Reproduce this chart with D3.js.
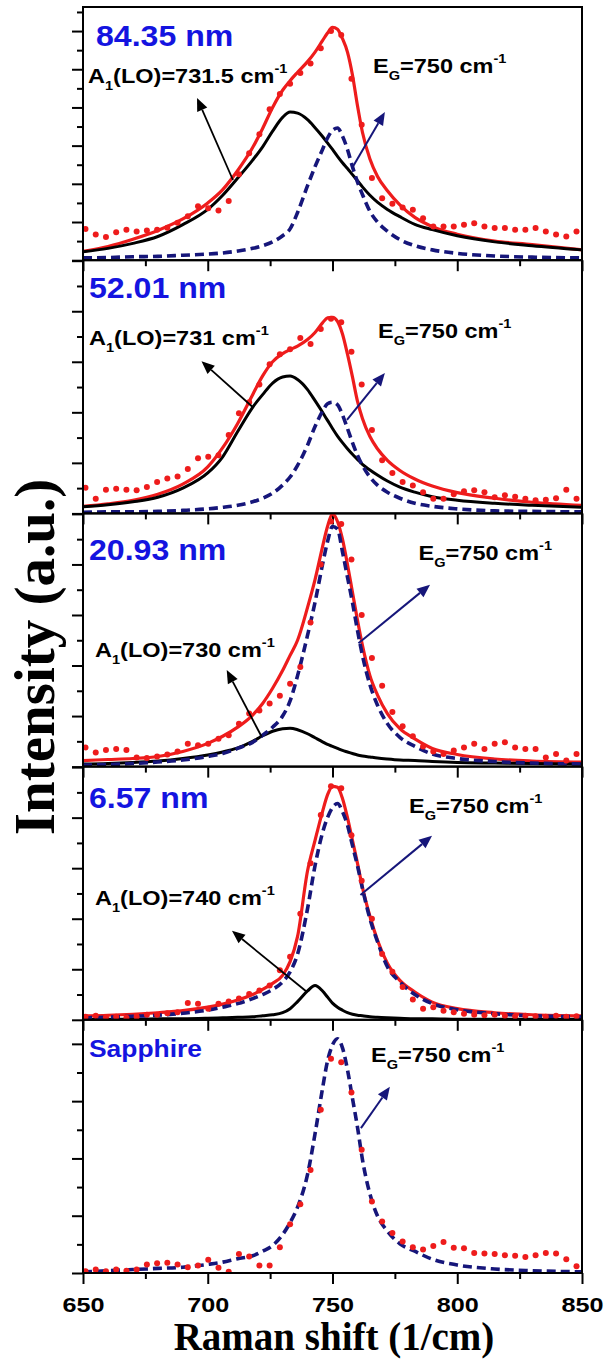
<!DOCTYPE html>
<html>
<head>
<meta charset="utf-8">
<script src="https://cdn.jsdelivr.net/npm/d3@7"></script>
<style>
  body { margin: 0; background: #fff; }
  svg { display: block; }
</style>
</head>
<body>
<svg id="chart" width="606" height="1360"></svg>
<script>
// ---------- data ----------
// Raman shift of the measured points (cm^-1)
const dataShift = [651.0, 655.1, 659.2, 663.3, 667.4, 671.5, 675.6, 679.7, 683.8, 687.9,
  692.0, 696.1, 700.2, 704.3, 708.4, 712.5, 716.6, 720.7, 724.8, 728.9,
  733.0, 737.1, 741.2, 745.3, 749.4, 753.5, 757.6, 761.7, 765.8, 769.9,
  774.0, 778.1, 782.2, 786.3, 790.4, 794.5, 798.6, 802.7, 806.8, 810.9,
  815.0, 819.1, 823.2, 827.3, 831.4, 835.5, 839.6, 843.7, 847.8];

// Raman shift at which the fitted curves are tabulated (cm^-1)
const fitShift = [650, 660, 670, 680, 690, 700, 706, 712, 718, 722, 726, 730, 733, 736, 740,
  743, 746, 748, 750, 752, 754, 756, 758, 760, 762, 765, 768, 772, 777, 783, 790, 800, 815, 830, 850];

const xTicks = [650, 700, 750, 800, 850];
const xMinorTicks = [675, 725, 775, 825];

const sampleLabels = ["84.35 nm", "52.01 nm", "20.93 nm", "6.57 nm", "Sapphire"];
const a1Positions = ["731.5", "731", "730", "740", null];
const egPositions = ["750", "750", "750", "750", "750"];
const intensityMax = [6.63, 5.01, 5.01, 5.01, 4.42];

// 84.35 nm film
const measured84 = [0.82, 0.67, 0.61, 0.73, 0.80, 0.75, 0.78, 0.80, 0.85, 0.98, 1.15, 1.41, 1.36, 1.30, 1.55,
  2.25, 2.80, 3.30, 3.95, 4.35, 4.62, 4.90, 5.15, 5.55, 6.00, 5.90, 4.75, 3.55, 2.15, 1.62, 1.48, 1.38,
  1.32, 1.10, 0.88, 0.88, 0.88, 0.93, 0.97, 0.88, 0.84, 0.84, 0.80, 0.80, 0.84, 0.75, 0.67, 0.62, 0.75];
const total84 = [0.23, 0.36, 0.55, 0.78, 1.08, 1.50, 1.85, 2.35, 2.95, 3.45, 4.00, 4.45, 4.70, 4.92, 5.20,
  5.45, 5.75, 5.95, 6.10, 6.05, 5.80, 5.45, 4.85, 4.05, 3.35, 2.65, 2.20, 1.82, 1.45, 1.12, 0.88, 0.68, 0.50, 0.41, 0.27];
const a1Fit84 = [0.22, 0.31, 0.44, 0.62, 0.93, 1.33, 1.70, 2.15, 2.62, 2.97, 3.38, 3.74, 3.88, 3.85, 3.68,
  3.47, 3.24, 3.07, 2.90, 2.72, 2.55, 2.40, 2.24, 2.08, 1.92, 1.70, 1.52, 1.33, 1.14, 0.94, 0.80, 0.64, 0.48, 0.38, 0.27];
const egFit84 = [0.06, 0.07, 0.09, 0.10, 0.13, 0.16, 0.19, 0.24, 0.31, 0.38, 0.48, 0.64, 0.82, 1.25, 1.95,
  2.45, 2.90, 3.20, 3.40, 3.46, 3.25, 2.90, 2.45, 2.05, 1.72, 1.28, 1.00, 0.76, 0.54, 0.38, 0.27, 0.18, 0.11, 0.08, 0.06];

// 52.01 nm film
const measured52 = [0.51, 0.29, 0.47, 0.49, 0.47, 0.46, 0.52, 0.62, 0.69, 0.73, 0.88, 1.09, 1.12, 1.15, 1.55,
  1.98, 2.20, 2.55, 2.95, 3.15, 3.25, 3.47, 3.35, 3.65, 3.85, 3.78, 3.20, 2.55, 1.65, 1.05, 0.80, 0.62,
  0.55, 0.42, 0.29, 0.29, 0.38, 0.44, 0.46, 0.42, 0.32, 0.36, 0.33, 0.29, 0.26, 0.27, 0.30, 0.47, 0.29];
const total52 = [0.14, 0.19, 0.26, 0.38, 0.58, 0.92, 1.30, 1.78, 2.35, 2.72, 3.00, 3.16, 3.24, 3.31, 3.44,
  3.58, 3.77, 3.87, 3.88, 3.80, 3.55, 3.15, 2.70, 2.22, 1.88, 1.52, 1.28, 1.05, 0.85, 0.68, 0.54, 0.41, 0.30, 0.22, 0.16];
const a1Fit52 = [0.13, 0.17, 0.23, 0.32, 0.50, 0.80, 1.12, 1.62, 2.10, 2.35, 2.58, 2.70, 2.72, 2.65, 2.45,
  2.23, 2.00, 1.84, 1.68, 1.53, 1.40, 1.28, 1.17, 1.07, 0.97, 0.86, 0.76, 0.64, 0.52, 0.42, 0.33, 0.26, 0.20, 0.16, 0.12];
const egFit52 = [0.02, 0.03, 0.03, 0.04, 0.06, 0.09, 0.12, 0.16, 0.23, 0.30, 0.40, 0.56, 0.72, 0.95, 1.35,
  1.72, 2.02, 2.17, 2.20, 2.15, 1.95, 1.68, 1.40, 1.15, 0.95, 0.72, 0.56, 0.42, 0.30, 0.20, 0.14, 0.09, 0.05, 0.04, 0.03];

// 20.93 nm film
const measured20 = [0.38, 0.28, 0.33, 0.35, 0.33, 0.18, 0.17, 0.20, 0.24, 0.30, 0.45, 0.42, 0.45, 0.55, 0.62,
  0.85, 1.05, 1.11, 1.25, 1.40, 1.64, 1.97, 2.85, 4.00, 4.85, 4.80, 4.10, 3.00, 2.15, 1.60, 1.08, 0.80,
  0.60, 0.40, 0.30, 0.25, 0.32, 0.38, 0.45, 0.35, 0.45, 0.48, 0.38, 0.35, 0.35, 0.18, 0.25, 0.12, 0.25];
const total20 = [0.12, 0.14, 0.16, 0.20, 0.30, 0.46, 0.60, 0.78, 1.02, 1.25, 1.55, 1.90, 2.20, 2.50, 3.15,
  3.70, 4.35, 4.75, 5.00, 4.85, 4.50, 4.00, 3.45, 2.90, 2.40, 1.80, 1.42, 1.05, 0.75, 0.55, 0.36, 0.24, 0.15, 0.11, 0.09];
const a1Fit20 = [0.05, 0.06, 0.08, 0.11, 0.16, 0.23, 0.29, 0.37, 0.50, 0.61, 0.70, 0.75, 0.76, 0.73, 0.65,
  0.57, 0.49, 0.44, 0.40, 0.36, 0.32, 0.29, 0.26, 0.23, 0.21, 0.19, 0.17, 0.15, 0.13, 0.12, 0.10, 0.08, 0.07, 0.06, 0.05];
const egFit20 = [0.03, 0.04, 0.06, 0.09, 0.13, 0.20, 0.26, 0.36, 0.48, 0.62, 0.78, 1.00, 1.30, 1.80, 2.60,
  3.25, 4.00, 4.45, 4.75, 4.70, 4.25, 3.75, 3.25, 2.70, 2.20, 1.62, 1.22, 0.85, 0.58, 0.40, 0.25, 0.16, 0.10, 0.07, 0.05];

// 6.57 nm film
const measured6 = [0.06, 0.08, 0.05, 0.06, 0.04, 0.06, 0.10, 0.10, 0.13, 0.15, 0.33, 0.32, 0.22, 0.32, 0.36,
  0.42, 0.51, 0.58, 0.68, 0.98, 1.25, 2.10, 3.10, 4.05, 4.62, 4.58, 3.65, 2.75, 2.00, 1.30, 0.95, 0.65,
  0.40, 0.22, 0.25, 0.18, 0.15, 0.12, 0.10, 0.09, 0.10, 0.08, 0.07, 0.08, 0.07, 0.06, 0.08, 0.06, 0.07];
const total6 = [0.08, 0.09, 0.11, 0.14, 0.18, 0.25, 0.31, 0.39, 0.50, 0.60, 0.72, 0.88, 1.15, 1.65, 2.95,
  3.55, 4.12, 4.45, 4.62, 4.60, 4.38, 4.00, 3.55, 3.10, 2.62, 2.05, 1.58, 1.12, 0.78, 0.55, 0.35, 0.22, 0.14, 0.10, 0.08];
const a1Fit6 = [0.01, 0.01, 0.01, 0.02, 0.02, 0.03, 0.04, 0.05, 0.06, 0.08, 0.10, 0.14, 0.22, 0.36, 0.57,
  0.68, 0.57, 0.45, 0.33, 0.25, 0.19, 0.14, 0.11, 0.09, 0.08, 0.06, 0.05, 0.04, 0.03, 0.02, 0.02, 0.01, 0.01, 0.01, 0.01];
const egFit6 = [0.04, 0.05, 0.07, 0.09, 0.13, 0.19, 0.25, 0.32, 0.42, 0.50, 0.60, 0.75, 0.95, 1.30, 2.20,
  3.05, 3.70, 4.00, 4.20, 4.28, 4.12, 3.85, 3.45, 3.05, 2.60, 2.00, 1.55, 1.05, 0.75, 0.50, 0.32, 0.20, 0.12, 0.08, 0.06];

// bare sapphire substrate
const measuredSapphire = [0.03, 0.06, 0.03, 0.06, 0.04, 0.06, 0.15, 0.17, 0.18, 0.15, 0.10, 0.13, 0.23, 0.09, 0.02,
  0.33, 0.29, 0.13, 0.13, 0.45, 0.85, 1.20, 1.80, 2.85, 3.74, 3.68, 3.15, 2.15, 1.25, 0.90, 0.70, 0.55,
  0.45, 0.41, 0.47, 0.54, 0.44, 0.43, 0.35, 0.34, 0.33, 0.31, 0.30, 0.28, 0.31, 0.35, 0.34, 0.24, 0.12];
const egFitSapphire = [0.02, 0.04, 0.06, 0.08, 0.10, 0.15, 0.19, 0.25, 0.30, 0.38, 0.48, 0.67, 0.88, 1.15, 1.72,
  2.43, 3.22, 3.70, 3.98, 4.09, 3.93, 3.55, 3.05, 2.55, 1.98, 1.38, 1.00, 0.73, 0.51, 0.38, 0.24, 0.14, 0.07, 0.04, 0.02];

// ---------- layout ----------
const plotLeft = 83, plotRight = 582, plotTop = 7, panelH = 253.2;
const RED = "#ee1c1c", NAVY = "#16167a", LABEL_BLUE = "#1414e0";
const SANS = "'Liberation Sans', Arial, Helvetica, sans-serif";
const SERIF = "'Liberation Serif', 'Times New Roman', Times, serif";

// per-panel annotation placement (text offsets in px from the panel's top-left; arrows in data units)
const panelDecor = [
  { name: [13, 39], a1: [5, 76], eg: [290, 66],
    a1Arrow: [[710.1, 2.10], [695.7, 4.25]], egArrow: [[757.8, 2.41], [771.0, 3.88]] },
  { name: [6, 38], a1: [6, 85], eg: [295, 78],
    a1Arrow: [[718.1, 2.10], [697.5, 3.01]], egArrow: [[755.8, 1.85], [771.0, 2.78]] },
  { name: [6, 46.6], a1: [12, 143.6], eg: [335.6, 46.6],
    a1Arrow: [[721.6, 0.59], [707.6, 1.91]], egArrow: [[760.4, 2.44], [789.1, 3.60]] },
  { name: [6, 41.7], a1: [12, 138.4], eg: [326, 46.6],
    a1Arrow: [[739.8, 0.55], [709.7, 1.76]], egArrow: [[761.2, 2.47], [789.9, 3.64]] },
  { name: [6, 37], a1: null, eg: [288, 42],
    a1Arrow: null, egArrow: [[761.4, 2.53], [773.0, 3.25]] }
];

const panels = [
  { measured: measured84, total: total84, a1: a1Fit84, eg: egFit84 },
  { measured: measured52, total: total52, a1: a1Fit52, eg: egFit52 },
  { measured: measured20, total: total20, a1: a1Fit20, eg: egFit20 },
  { measured: measured6, total: total6, a1: a1Fit6, eg: egFit6 },
  { measured: measuredSapphire, total: null, a1: null, eg: egFitSapphire }
];

const svg = d3.select("#chart");
const defs = svg.append("defs");
const x = d3.scaleLinear().domain([650, 850]).range([plotLeft, plotRight]);

function drawArrow(g, from, to, color, width) {
  const [x1, y1] = from, [x2, y2] = to;
  const ang = Math.atan2(y2 - y1, x2 - x1);
  const len = 13, half = 5.5;
  const bx = x2 - len * Math.cos(ang), by = y2 - len * Math.sin(ang);
  g.append("line")
    .attr("x1", x1).attr("y1", y1).attr("x2", bx).attr("y2", by)
    .attr("stroke", color).attr("stroke-width", width);
  g.append("path")
    .attr("d", `M${x2},${y2}L${bx + half * Math.sin(ang)},${by - half * Math.cos(ang)}L${bx - half * Math.sin(ang)},${by + half * Math.cos(ang)}Z`)
    .attr("fill", color);
}

// "A1(LO)=xxx cm-1" / "EG=750 cm-1" style labels with sub- and superscripts
function modeLabel(g, px, py, letter, sub, value) {
  const t = g.append("text")
    .attr("transform", `translate(${px},${py}) scale(1.12,1)`)
    .attr("font-family", SANS).attr("font-weight", "bold")
    .attr("font-size", 21).attr("fill", "#000");
  t.append("tspan").text(letter);
  t.append("tspan").attr("font-size", 13).attr("dy", 7).text(sub);
  t.append("tspan").attr("font-size", 21).attr("dy", -7).text(value + " cm");
  t.append("tspan").attr("font-size", 13).attr("dy", -10).text("-1");
}

panels.forEach((p, i) => {
  const top = plotTop + i * panelH, bottom = top + panelH;
  const yMax = intensityMax[i];
  const y = d3.scaleLinear().domain([0, yMax]).range([bottom, top]);
  const deco = panelDecor[i];

  const clipId = "panel-clip-" + i;
  defs.append("clipPath").attr("id", clipId).append("rect")
    .attr("x", plotLeft).attr("y", top).attr("width", plotRight - plotLeft).attr("height", panelH);

  const g = svg.append("g");
  const plot = g.append("g").attr("clip-path", `url(#${clipId})`);

  const line = d3.line().x(d => x(d[0])).y(d => y(d[1])).curve(d3.curveMonotoneX);
  const fitPts = arr => fitShift.map((s, k) => [s, arr[k]]);

  if (p.total) {
    plot.append("path").datum(fitPts(p.total)).attr("d", line)
      .attr("fill", "none").attr("stroke", RED).attr("stroke-width", 3.2);
  }
  if (p.a1) {
    plot.append("path").datum(fitPts(p.a1)).attr("d", line)
      .attr("fill", "none").attr("stroke", "#000").attr("stroke-width", 3);
  }
  plot.append("path").datum(fitPts(p.eg)).attr("d", line)
    .attr("fill", "none").attr("stroke", NAVY).attr("stroke-width", 3.6)
    .attr("stroke-dasharray", "9,5");
  // measured spectrum on top of the fits
  plot.append("g").selectAll("circle")
    .data(dataShift.map((s, k) => [s, p.measured[k]]))
    .join("circle")
    .attr("cx", d => x(d[0])).attr("cy", d => y(d[1])).attr("r", 3)
    .attr("fill", RED);

  // intensity ticks (unlabelled), outward on the left
  const yMajor = d3.range(0, yMax + 1e-6, 1);
  const yMinor = d3.range(0.5, yMax, 1);
  const yAxisMajor = g.append("g").attr("transform", `translate(${plotLeft},0)`)
    .call(d3.axisLeft(y).tickValues(yMajor).tickSize(11).tickFormat(""));
  const yAxisMinor = g.append("g").attr("transform", `translate(${plotLeft},0)`)
    .call(d3.axisLeft(y).tickValues(yMinor).tickSize(6).tickFormat(""));

  // Raman-shift ticks at the bottom of each panel, labels on the last one
  const last = i === panels.length - 1;
  const xAxisMajor = g.append("g").attr("transform", `translate(0,${bottom})`)
    .call(d3.axisBottom(x).tickValues(xTicks).tickSize(11).tickPadding(14)
      .tickFormat(last ? d3.format("d") : ""));
  const xAxisMinor = g.append("g").attr("transform", `translate(0,${bottom})`)
    .call(d3.axisBottom(x).tickValues(xMinorTicks).tickSize(6).tickFormat(""));

  [yAxisMajor, yAxisMinor, xAxisMajor, xAxisMinor].forEach(a => {
    a.select(".domain").remove();
    a.selectAll(".tick line").attr("stroke", "#000").attr("stroke-width", 2);
  });
  xAxisMajor.selectAll(".tick text")
    .attr("font-family", SANS).attr("font-weight", "bold").attr("font-size", 21)
    .attr("fill", "#000").attr("dy", 0).attr("y", 39)
    .attr("transform", "scale(1.2,1)");

  // panel frame
  g.append("rect").attr("x", plotLeft).attr("y", top)
    .attr("width", plotRight - plotLeft).attr("height", panelH)
    .attr("fill", "none").attr("stroke", "#000").attr("stroke-width", 2);

  // sample label
  const isSub = i === panels.length - 1;
  g.append("text")
    .attr("transform", `translate(${plotLeft + deco.name[0]},${top + deco.name[1]}) scale(${isSub ? 1.1 : 1.07},1)`)
    .attr("font-family", SANS).attr("font-weight", "bold")
    .attr("font-size", isSub ? 24 : 30).attr("fill", LABEL_BLUE)
    .text(sampleLabels[i]);

  // phonon mode labels and arrows
  if (deco.a1) {
    modeLabel(g, plotLeft + deco.a1[0], top + deco.a1[1], "A", "1", "(LO)=" + a1Positions[i]);
    const [f, t] = deco.a1Arrow;
    drawArrow(g, [x(f[0]), y(f[1])], [x(t[0]), y(t[1])], "#000", 1.8);
  }
  modeLabel(g, plotLeft + deco.eg[0], top + deco.eg[1], "E", "G", "=" + egPositions[i]);
  const [ef, et] = deco.egArrow;
  drawArrow(g, [x(ef[0]), y(ef[1])], [x(et[0]), y(et[1])], NAVY, 2);
});

// axis titles
svg.append("text")
  .attr("transform", "translate(54,657) rotate(-90)")
  .attr("text-anchor", "middle")
  .attr("font-family", SERIF).attr("font-weight", "bold").attr("font-size", 57)
  .attr("fill", "#000")
  .text("Intensity (a.u.)");

svg.append("text")
  .attr("x", 334).attr("y", 1350)
  .attr("text-anchor", "middle")
  .attr("font-family", SERIF).attr("font-weight", "bold").attr("font-size", 39)
  .attr("fill", "#000")
  .text("Raman shift (1/cm)");
</script>
</body>
</html>
